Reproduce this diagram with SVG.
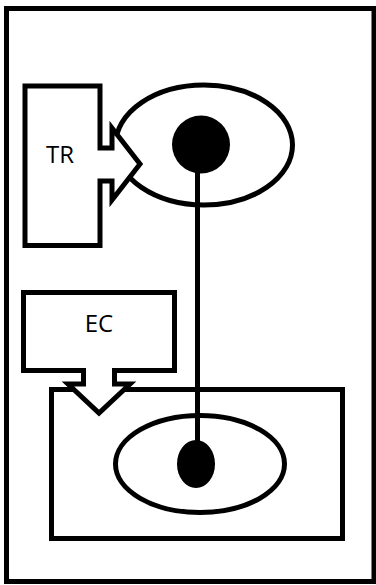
<svg xmlns="http://www.w3.org/2000/svg" width="376" height="585" viewBox="0 0 376 585">
<style>
.s{fill:#fff;stroke:#000;stroke-width:5}
.t{font-family:"Open Sans","Noto Sans",sans-serif;font-size:24px;fill:#000;text-anchor:middle}
.c{stroke:#000;stroke-width:5;fill:none}
</style>
<rect x="0" y="0" width="376" height="585" fill="#fff"/>
<rect id="frame" class="s" x="6.5" y="8.5" width="367.5" height="573"/>
<g id="ec-region"><rect class="s" x="51.5" y="389.5" width="291" height="149"/></g>
<g id="top-ellipse"><ellipse class="s" cx="204" cy="145" rx="88.5" ry="60"/></g>
<g id="bottom-ellipse"><ellipse class="s" cx="200" cy="464" rx="84.5" ry="48.5"/></g>
<g id="connectors"><line class="c" x1="197.5" y1="170" x2="197.5" y2="448"/></g>
<g id="top-dot"><circle cx="201" cy="144.5" r="29"/></g>
<g id="bottom-dot"><ellipse cx="196" cy="464" rx="19" ry="24"/></g>
<g id="TR"><path class="s" d="M25 86H100V148H112V128L140 164L112 200V181H100V245.5H25Z"/><text class="t" x="60" y="163">TR</text></g>
<g id="EC"><path class="s" d="M23.5 292.5H174.5V370.5H114.5V384H130L99 413L68 384H83.5V370.5H23.5Z"/><text class="t" x="99" y="332">EC</text></g>
</svg>
